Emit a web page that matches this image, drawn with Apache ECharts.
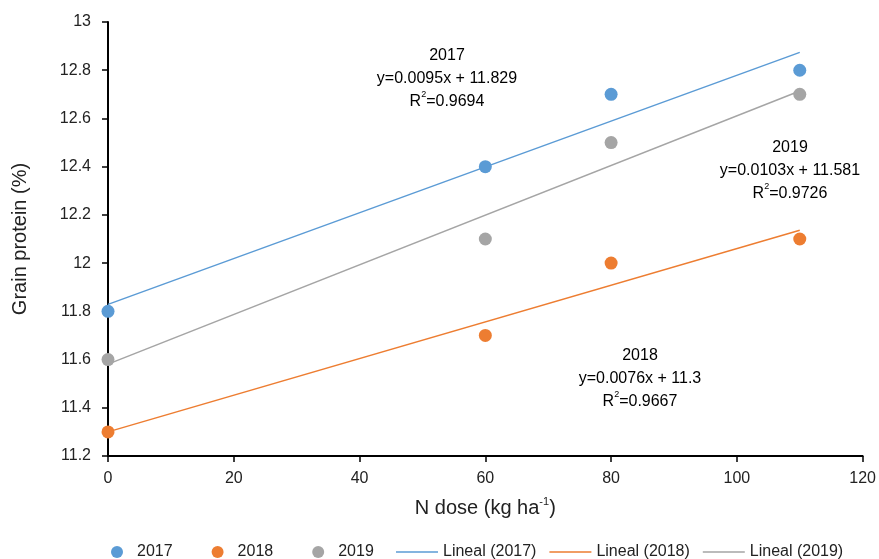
<!DOCTYPE html>
<html>
<head>
<meta charset="utf-8">
<script src="https://cdn.jsdelivr.net/npm/echarts@6/dist/echarts.min.js"></script>
<style>html,body{margin:0;padding:0;background:#fff}#c{width:879px;height:559px}</style>
</head>
<body>
<div id="c"></div>
<script>
const nDose = [0, 60, 80, 110];
const protein2017 = [11.8, 12.4, 12.7, 12.8];
const protein2018 = [11.3, 11.7, 12.0, 12.1];
const protein2019 = [11.6, 12.1, 12.5, 12.7];
const trendX = [0, 110];
const trend2017 = [11.829, 12.874];
const trend2018 = [11.3, 12.136];
const trend2019 = [11.581, 12.714];
const years = ['2017', '2018', '2019'];
const trendNames = ['Lineal (2017)', 'Lineal (2018)', 'Lineal (2019)'];
const equations = ['y=0.0095x + 11.829', 'y=0.0076x + 11.3', 'y=0.0103x + 11.581'];
const r2 = ['0.9694', '0.9667', '0.9726'];

const FONT = "'Liberation Sans Narrow', 'Liberation Sans', Arial, sans-serif";
const colors = ['#5B9BD5', '#ED7D31', '#A5A5A5'];

const pts = [protein2017, protein2018, protein2019];
const trends = [trend2017, trend2018, trend2019];

const series = [];
years.forEach((y, i) => {
  series.push({
    name: y, type: 'scatter', symbol: 'circle', symbolSize: 13, z: 5,
    itemStyle: { color: colors[i], opacity: 1 },
    data: nDose.map((x, j) => [x, pts[i][j]])
  });
});
years.forEach((y, i) => {
  series.push({
    name: trendNames[i], type: 'line', symbol: 'none', showSymbol: false, z: 3,
    lineStyle: { color: colors[i], width: 1.5 },
    itemStyle: { color: colors[i] },
    data: trendX.map((x, j) => [x, trends[i][j]])
  });
});

const rich = {
  a: { fontSize: 16, fontFamily: FONT, color: '#222', lineHeight: 23 },
  sup: { fontSize: 9, fontFamily: FONT, color: '#222', lineHeight: 23, verticalAlign: 'top' }
};
function block(i, x, y) {
  return {
    type: 'text', x: x, y: y,
    style: {
      text: '{a|' + years[i] + '}\n{a|' + equations[i] + '}\n{a|R}{sup|2}{a|=' + r2[i] + '}',
      rich: rich, align: 'center', verticalAlign: 'top'
    }
  };
}

const chart = echarts.init(document.getElementById('c'));
chart.setOption({
  animation: false,
  textStyle: { fontFamily: FONT },
  grid: { left: 108, right: 13, top: 22, bottom: 103 },
  xAxis: {
    type: 'value', min: 0, max: 120, interval: 20,
    name: 'N dose (kg ha{sup|-1})', nameLocation: 'middle', nameGap: 40,
    nameTextStyle: {
      fontSize: 20, fontFamily: FONT, color: '#222',
      rich: { sup: { fontSize: 11, fontFamily: FONT, color: '#222', verticalAlign: 'top', lineHeight: 24 } }
    },
    axisLine: { lineStyle: { color: '#000', width: 2 } },
    axisTick: { show: true, length: 6, lineStyle: { color: '#000', width: 1.5 } },
    axisLabel: { fontSize: 16, color: '#222', fontFamily: FONT, margin: 15 },
    splitLine: { show: false }
  },
  yAxis: {
    type: 'value', min: 11.2, max: 13, interval: 0.2,
    name: 'Grain protein (%)', nameLocation: 'middle', nameGap: 78,
    nameTextStyle: { fontSize: 20, fontFamily: FONT, color: '#222' },
    axisLine: { show: true, lineStyle: { color: '#000', width: 2 } },
    axisTick: { show: true, length: 6, lineStyle: { color: '#000', width: 1.5 } },
    axisLabel: { fontSize: 16, color: '#222', fontFamily: FONT, margin: 17 },
    splitLine: { show: false }
  },
  legend: [
    {
      data: years, left: 106, top: 539, icon: 'circle', itemWidth: 30, itemHeight: 12, itemGap: 39,
      textStyle: { fontSize: 16, color: '#222', fontFamily: FONT }
    },
    {
      data: trendNames, left: 391, top: 539, width: 486, icon: 'rect', itemWidth: 42, itemHeight: 1.5, itemGap: 13,
      textStyle: { fontSize: 16, color: '#222', fontFamily: FONT }
    }
  ],
  graphic: [block(0, 447, 44), block(2, 790, 136), block(1, 640, 344)],
  series: series
});
</script>
</body>
</html>
